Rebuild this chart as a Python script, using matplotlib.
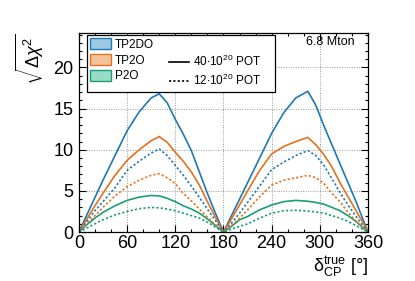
import numpy as np
import matplotlib
matplotlib.use("Agg")
import matplotlib.pyplot as plt
from matplotlib.patches import Patch
from matplotlib.lines import Line2D
from matplotlib.ticker import MultipleLocator

plt.rcParams['font.family'] = ['Liberation Sans', 'DejaVu Sans']
plt.rcParams['mathtext.fontset'] = 'custom'
plt.rcParams['mathtext.rm'] = 'Liberation Sans'
plt.rcParams['mathtext.it'] = 'Liberation Sans:italic'

# delta_CP true values (deg)
dcp = [0, 10, 20, 30, 45, 60, 75, 90, 100, 110, 120, 130, 140, 150, 160, 170, 180,
       190, 200, 210, 225, 240, 255, 270, 285, 295, 305, 315, 325, 335, 345, 355, 360]

# sqrt(dchi2), 40e20 POT
tp2do_40 = [0, 2.1, 4.2, 6.3, 9.3, 12.3, 14.6, 16.3, 16.8, 15.7, 13.7, 11.9, 9.9, 7.3, 4.7, 2.3, 0,
            2.0, 4.0, 6.0, 9.0, 12.0, 14.5, 16.3, 17.1, 15.4, 12.9, 10.6, 8.3, 6.0, 3.7, 1.2, 0]
tp2o_40 = [0, 1.6, 3.2, 4.7, 6.9, 8.7, 10.0, 11.1, 11.6, 10.9, 9.7, 8.6, 7.3, 5.7, 3.7, 1.8, 0,
           1.6, 3.3, 5.0, 7.5, 9.5, 10.4, 11.0, 11.5, 10.6, 9.4, 7.9, 6.0, 4.3, 2.6, 0.9, 0]
p2o_40 = [0, 0.9, 1.7, 2.4, 3.2, 3.85, 4.25, 4.45, 4.4, 4.1, 3.7, 3.2, 2.8, 2.3, 1.6, 0.8, 0,
          0.7, 1.5, 1.9, 2.7, 3.3, 3.7, 3.85, 3.75, 3.6, 3.4, 3.0, 2.6, 2.0, 1.3, 0.4, 0]

# sqrt(dchi2), 12e20 POT
tp2do_12 = [0, 1.3, 2.6, 3.7, 5.4, 7.5, 8.6, 9.6, 10.1, 9.3, 8.1, 6.9, 5.6, 4.2, 2.8, 1.4, 0,
            1.1, 2.3, 3.6, 5.6, 7.6, 8.5, 9.3, 9.9, 9.3, 8.1, 6.5, 4.8, 3.3, 1.9, 0.6, 0]
tp2o_12 = [0, 1.0, 2.0, 3.0, 4.4, 5.5, 6.3, 6.9, 7.1, 6.6, 5.9, 4.7, 3.8, 2.8, 1.8, 0.9, 0,
           0.8, 1.7, 2.7, 4.3, 5.7, 6.3, 6.6, 6.9, 6.6, 5.9, 4.7, 3.7, 2.4, 1.3, 0.4, 0]
p2o_12 = [0, 0.5, 1.0, 1.5, 2.1, 2.5, 2.85, 3.0, 2.95, 2.8, 2.6, 2.3, 2.0, 1.7, 1.2, 0.6, 0,
          0.35, 0.7, 1.0, 1.7, 2.3, 2.6, 2.65, 2.55, 2.45, 2.3, 2.0, 1.7, 1.3, 0.8, 0.25, 0]

blue = "#1f78b4"
orange = "#e6701b"
green = "#1a9e77"
dots = (0, (1.3, 1.3))

fig = plt.figure(figsize=(4.15, 2.81), dpi=100)
ax = fig.add_axes([0.190, 0.174, 0.697, 0.709])

ax.plot(dcp, tp2do_40, color=blue, lw=1.2)
ax.plot(dcp, tp2o_40, color=orange, lw=1.2)
ax.plot(dcp, p2o_40, color=green, lw=1.2)
ax.plot(dcp, tp2do_12, color=blue, lw=1.2, ls=dots)
ax.plot(dcp, tp2o_12, color=orange, lw=1.2, ls=dots)
ax.plot(dcp, p2o_12, color=green, lw=1.2, ls=dots)

ax.set_xlim(0, 360)
ax.set_ylim(0, 24.2)
ax.xaxis.set_major_locator(MultipleLocator(60))
ax.xaxis.set_minor_locator(MultipleLocator(20))
ax.yaxis.set_major_locator(MultipleLocator(5))
ax.yaxis.set_minor_locator(MultipleLocator(1))
ax.tick_params(which='both', direction='in', top=True, right=True, labelsize=13)
ax.tick_params(axis='x', pad=2)
ax.tick_params(axis='y', pad=4)
ax.tick_params(which='major', length=5, width=0.8)
ax.tick_params(which='minor', length=2.5, width=0.8)
ax.grid(True, which='major', ls=(0, (1, 1.5)), color='#999999', lw=0.7)
for s in ax.spines.values():
    s.set_linewidth(0.9)

ax.set_ylabel(r"$\sqrt{\Delta\chi^2}$", fontsize=13, loc='top', labelpad=5)
ax.set_xlabel(r"$\mathrm{\delta}_{\mathrm{CP}}^{\mathrm{true}}$ [$\degree$]", fontsize=13,
              loc='right', labelpad=2)
ax.text(0.955, 0.985, "6.8 Mton", transform=ax.transAxes, ha='right', va='top', fontsize=9)

handles = [
    Patch(facecolor="#9ecae1", edgecolor=blue, lw=1.0, label="TP2DO"),
    Patch(facecolor="#f5c39b", edgecolor=orange, lw=1.0, label="TP2O"),
    Patch(facecolor="#99dbc7", edgecolor=green, lw=1.0, label="P2O"),
    Line2D([], [], color='none', label=" "),
    Line2D([], [], color='black', lw=1.2, label=r"40$\cdot$10$^{20}$ POT    "),
    Line2D([], [], color='black', lw=1.2, ls=dots, label=r"12$\cdot$10$^{20}$ POT    "),
]
leg = ax.legend(handles=handles, ncol=2, loc='upper left', bbox_to_anchor=(0.028, 0.99),
                borderaxespad=0, fontsize=8.5, fancybox=False, edgecolor='black', framealpha=1,
                handlelength=1.7, handleheight=1.0, columnspacing=1.3,
                labelspacing=0.3, borderpad=0.3, handletextpad=0.35)
leg.get_frame().set_linewidth(0.9)

fig.savefig("out.png", dpi=100)
